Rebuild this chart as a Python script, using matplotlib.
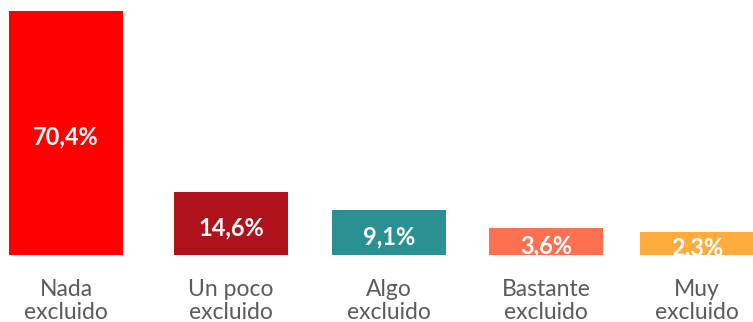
import numpy as np
import matplotlib
matplotlib.use("Agg")
import matplotlib.pyplot as plt
import matplotlib.transforms as mtransforms

categories = ["Nada\nexcluido", "Un poco\nexcluido", "Algo\nexcluido",
              "Bastante\nexcluido", "Muy\nexcluido"]
values = [70.4, 14.6, 9.1, 3.6, 2.3]
colors = ["#FF0000", "#B0121B", "#2A9092", "#FF7051", "#FFAC3C"]

# bar slots (the gap after the first bar is a little wider)
xpos = np.array([0, 1.046, 2.048, 3.043, 4.0])
# bars start a bit below zero so the small ones still hold their label
base = -4.7

fig = plt.figure(figsize=(7.53, 3.22), dpi=100)
ax = fig.add_axes([0, 0, 1, 1])
ax.bar(xpos, np.array(values) - base, bottom=base, width=0.723, color=colors)

for xi, v in zip(xpos, values):
    mid = (v + base) / 2
    ax.text(xi, mid - 1.3, f"{v:.1f}%".replace(".", ","), ha="center", va="center",
            color="white", fontsize=17, fontweight="bold", family="Lato")

trans = mtransforms.blended_transform_factory(ax.transData, ax.transAxes)
for xi, lab in zip(xpos, categories):
    ax.text(xi, 0.066, lab, transform=trans, ha="center", va="center",
            color="#5B5B5B", fontsize=16.5, family="Lato", linespacing=1.12)

ax.set_xlim(-0.4184, 4.355)
ax.set_ylim(-25.35, 73.82)
ax.axis("off")

fig.savefig("out.png", dpi=100)
